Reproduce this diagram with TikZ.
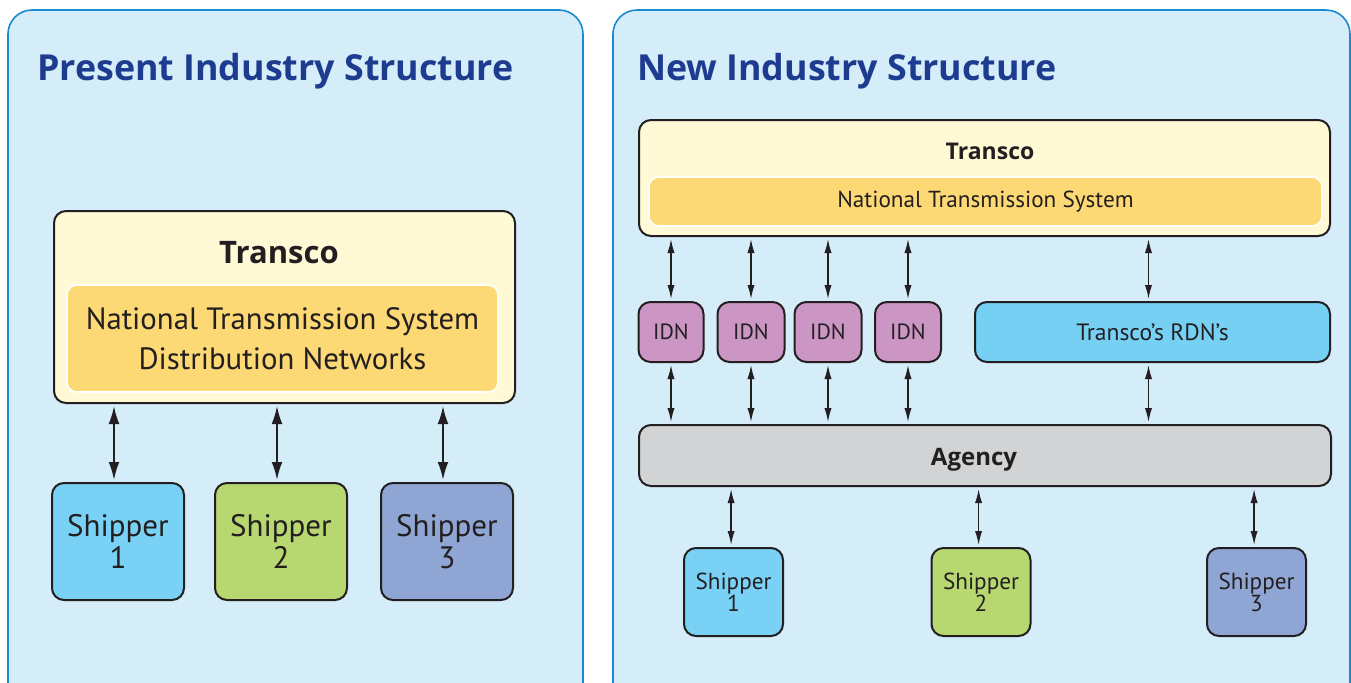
\documentclass[tikz,border=0pt]{standalone}
\usepackage{fontspec}
\setmainfont{PT Sans}
\newfontfamily\headfont{Open Sans}
\usetikzlibrary{arrows.meta}

\definecolor{panelfill}{HTML}{D5ECF9}
\definecolor{panelline}{HTML}{1A8AD0}
\definecolor{titleblue}{HTML}{1E3C8F}
\definecolor{boxline}{HTML}{231F20}
\definecolor{transcofill}{HTML}{FFF9D6}
\definecolor{ntsfill}{HTML}{FCD975}
\definecolor{shipA}{HTML}{79D1F5}
\definecolor{shipB}{HTML}{B7D770}
\definecolor{shipC}{HTML}{8FA6D5}
\definecolor{idnfill}{HTML}{CC96C4}
\definecolor{rdnfill}{HTML}{76D0F4}
\definecolor{agencyfill}{HTML}{D1D3D4}

\begin{document}
\begin{tikzpicture}[x=0.5pt,y=-0.5pt,
    panel/.style={draw=panelline, fill=panelfill, line width=0.8pt, rounded corners=12pt},
    box/.style={draw=boxline, line width=1pt, rounded corners=6pt, align=center, text=boxline, inner sep=0pt},
    inbox/.style={draw=white, line width=0.8pt, rounded corners=5pt, fill=ntsfill, align=center, text=boxline, inner sep=0pt},
    heading/.style={anchor=base west, text=titleblue, font=\headfont\bfseries\fontsize{17.9}{20}\selectfont},
    boldlab/.style={text=boxline, font=\headfont\bfseries\fontsize{#1}{14}\selectfont},
    bigarrow/.style={{Latex[length=9pt,width=5.4pt]}-{Latex[length=9pt,width=5.4pt]}, line width=1pt, draw=boxline, shorten <=1pt, shorten >=1pt},
    smallarrow/.style={{Latex[length=7pt,width=3.6pt]}-{Latex[length=7pt,width=3.6pt]}, line width=0.7pt, draw=boxline, shorten <=1pt, shorten >=1pt}]

    % Page size
    \useasboundingbox (0,0) rectangle (1351,682);

    % Two panels
    \begin{scope}
    \clip (0,0) rectangle (1351,682);
    \draw[panel] (8,10) rectangle (583,710);
    \draw[panel] (613,10) rectangle (1350,710);
    \end{scope}

    % Headings
    \node[heading] (presT) at (30,80) {Present Industry Structure};
    \node[heading] (newT) at (630,80) {New Industry Structure};

    % Present structure: Transco
    \node[box, fill=transcofill, minimum width=230.5pt, minimum height=96pt] (trA) at (284.5,307) {};
    \node[boldlab=15.5] (trAlab) at (279,253) {Transco};
    \node[inbox, minimum width=215.5pt, minimum height=53.5pt, font=\fontsize{15.4}{20}\selectfont] (ntsA) at (282.5,338.5)
        {National Transmission System\\Distribution Networks};

    % Present structure: shippers
    \node[box, fill=shipA, minimum width=66pt, minimum height=58.5pt, font=\fontsize{15.5}{16}\selectfont] (sA1) at (118,541.5) {Shipper\\1};
    \node[box, fill=shipB, minimum width=66pt, minimum height=58.5pt, font=\fontsize{15.5}{16}\selectfont] (sA2) at (281,541.5) {Shipper\\2};
    \node[box, fill=shipC, minimum width=66pt, minimum height=58.5pt, font=\fontsize{15.5}{16}\selectfont] (sA3) at (447,541.5) {Shipper\\3};

    \foreach \s in {sA1,sA2,sA3}
        \draw[bigarrow, transform canvas={xshift=-2pt}] (\s.north) -- (\s.north |- trA.south);

    % New structure: Transco
    \node[box, fill=transcofill, minimum width=345.5pt, minimum height=58pt] (trB) at (984.5,178) {};
    \node[boldlab=11.5] (trBlab) at (990,151) {Transco};
    \node[inbox, minimum width=336.5pt, minimum height=24.5pt, font=\fontsize{11.6}{12}\selectfont] (ntsB) at (985.5,201.5)
        {National Transmission System};

    % IDNs and RDNs
    \node[box, fill=idnfill, minimum width=32.5pt, minimum height=30pt, font=\fontsize{11}{12}\selectfont] (idn1) at (671,332) {IDN};
    \node[box, fill=idnfill, minimum width=33.5pt, minimum height=30pt, font=\fontsize{11}{12}\selectfont] (idn2) at (751,332) {IDN};
    \node[box, fill=idnfill, minimum width=33.5pt, minimum height=30pt, font=\fontsize{11}{12}\selectfont] (idn3) at (828,332) {IDN};
    \node[box, fill=idnfill, minimum width=33pt, minimum height=30pt, font=\fontsize{11}{12}\selectfont] (idn4) at (908,332) {IDN};
    \node[box, fill=rdnfill, minimum width=177.5pt, minimum height=30pt, font=\fontsize{11.8}{12}\selectfont] (rdn) at (1152.5,332) {Transco’s RDN’s};

    % Agency
    \node[box, fill=agencyfill, minimum width=346pt, minimum height=30.5pt] (agency) at (985,455.5) {};
    \node[boldlab=12] (agencylab) at (974,460) {Agency};

    % New structure: shippers
    \node[box, fill=shipA, minimum width=49.5pt, minimum height=44pt, font=\fontsize{11.6}{11}\selectfont] (sB1) at (733.5,592) {Shipper\\1};
    \node[box, fill=shipB, minimum width=49.5pt, minimum height=44pt, font=\fontsize{11.6}{11}\selectfont] (sB2) at (981,592) {Shipper\\2};
    \node[box, fill=shipC, minimum width=49.5pt, minimum height=44pt, font=\fontsize{11.6}{11}\selectfont] (sB3) at (1256.5,592) {Shipper\\3};

    \foreach \n in {idn1,idn2,idn3,idn4} {
        \draw[smallarrow] (\n.north) -- (\n.north |- trB.south);
        \draw[smallarrow] (\n.south) -- (\n.south |- agency.north);
    }
    \draw[smallarrow, transform canvas={xshift=-2pt}] (rdn.north) -- (rdn.north |- trB.south);
    \draw[smallarrow, transform canvas={xshift=-2pt}] (rdn.south) -- (rdn.south |- agency.north);
    \foreach \s in {sB1,sB2,sB3}
        \draw[smallarrow, transform canvas={xshift=-1.2pt}] (\s.north) -- (\s.north |- agency.south);

\end{tikzpicture}
\end{document}
